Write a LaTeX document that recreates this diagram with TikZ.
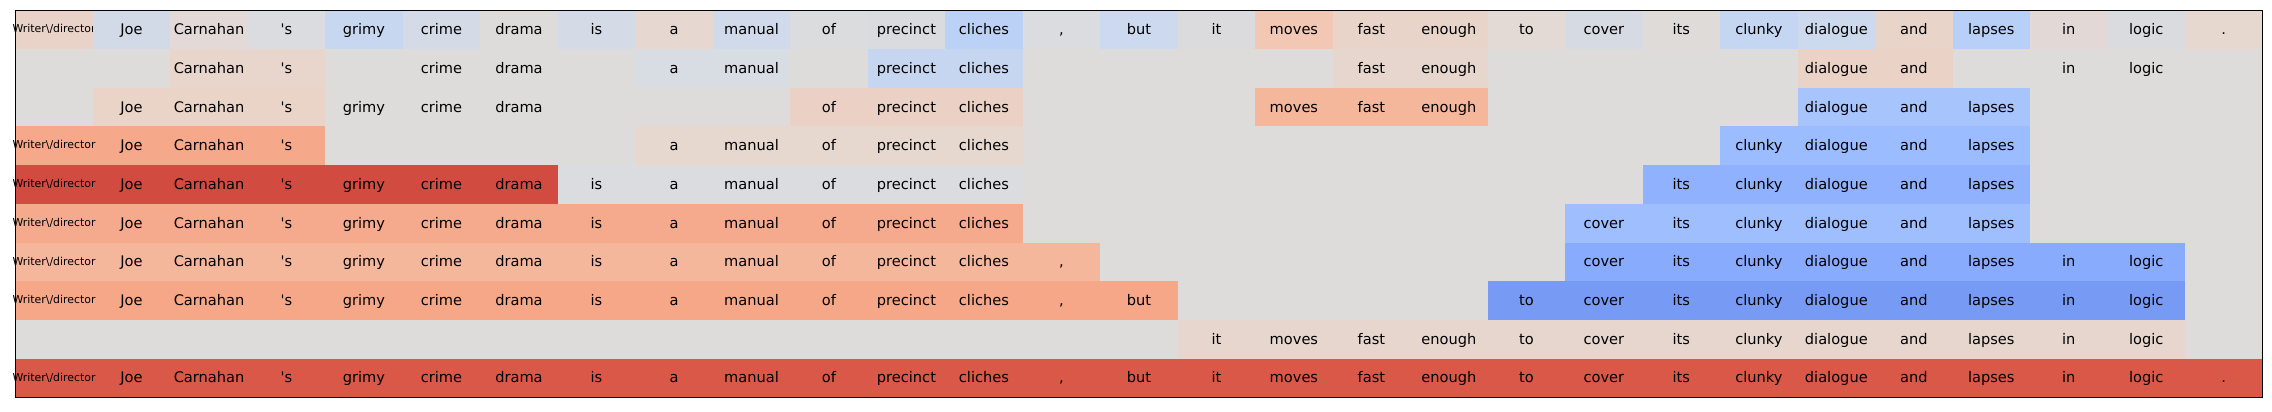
\documentclass[tikz,border=0pt]{standalone}
\usepackage{fontspec}
\setmainfont{DejaVu Sans}
\newcommand\deftok[2]{\expandafter\def\csname tok#1\endcsname{#2}}
\deftok{0}{Writer\textbackslash/director}
\deftok{1}{Joe}
\deftok{2}{Carnahan}
\deftok{3}{\textquotesingle s}
\deftok{4}{grimy}
\deftok{5}{crime}
\deftok{6}{drama}
\deftok{7}{is}
\deftok{8}{a}
\deftok{9}{manual}
\deftok{10}{of}
\deftok{11}{precinct}
\deftok{12}{cliches}
\deftok{13}{,}
\deftok{14}{but}
\deftok{15}{it}
\deftok{16}{moves}
\deftok{17}{fast}
\deftok{18}{enough}
\deftok{19}{to}
\deftok{20}{cover}
\deftok{21}{its}
\deftok{22}{clunky}
\deftok{23}{dialogue}
\deftok{24}{and}
\deftok{25}{lapses}
\deftok{26}{in}
\deftok{27}{logic}
\deftok{28}{.}
\definecolor{bgc}{HTML}{DDDCDB}
\def\GX{15.3}\def\GY{10.3}\def\GW{77.49}\def\GH{38.7}
% row, from, to, hex colour
\newcommand\runcells[4]{%
  \definecolor{tmpc}{HTML}{#4}%
  \fill[tmpc] ({\GX+#2*\GW},{\GY+#1*\GH}) rectangle ({\GX+(#3+1)*\GW},{\GY+(#1+1)*\GH});%
  \foreach \c in {#2,...,#3}{%
    \ifnum\c=0
      \node[smalltok] (t-#1-\c) at ({\GX+(\c+0.5)*\GW},{\GY+(#1+0.5)*\GH+3.2}) {\csname tok\c\endcsname};%
    \else
      \node[maintok] (t-#1-\c) at ({\GX+(\c+0.5)*\GW},{\GY+(#1+0.5)*\GH+5.0}) {\csname tok\c\endcsname};%
    \fi
  }%
}
\begin{document}
\begin{tikzpicture}[x=1pt,y=-1pt,
  maintok/.style={anchor=base,inner sep=0pt,font=\fontsize{14.6}{17}\selectfont,text=black},
  smalltok/.style={anchor=base,inner sep=0pt,font=\fontsize{10.9}{13}\selectfont,text=black}]
\useasboundingbox (0,0) rectangle (2272,412);
\fill[bgc] (\GX,\GY) rectangle ({\GX+29*\GW},{\GY+10*\GH});
% row 0
\runcells{0}{0}{0}{E9D3C8}
\runcells{0}{1}{1}{D3DAE7}
\runcells{0}{2}{2}{E3DAD7}
\runcells{0}{3}{3}{DBDCDF}
\runcells{0}{4}{4}{C7D7EF}
\runcells{0}{5}{5}{D4DAE6}
\runcells{0}{6}{6}{DDDCDB}
\runcells{0}{7}{7}{D4DAE6}
\runcells{0}{8}{8}{E6D8D0}
\runcells{0}{9}{9}{D0DAEA}
\runcells{0}{10}{10}{DBDCDE}
\runcells{0}{11}{11}{DADBDF}
\runcells{0}{12}{12}{BCD1F6}
\runcells{0}{13}{13}{DBDCDF}
\runcells{0}{14}{14}{CCD9EE}
\runcells{0}{15}{15}{DBDBDD}
\runcells{0}{16}{16}{F2C8B4}
\runcells{0}{17}{17}{E8D4C9}
\runcells{0}{18}{18}{E8D4C9}
\runcells{0}{19}{19}{E3D9D5}
\runcells{0}{20}{20}{D6DAE3}
\runcells{0}{21}{21}{DFDBD9}
\runcells{0}{22}{22}{C4D6F2}
\runcells{0}{23}{23}{CDD9EC}
\runcells{0}{24}{24}{E9D4C9}
\runcells{0}{25}{25}{B8CFF8}
\runcells{0}{26}{26}{E2D9D6}
\runcells{0}{27}{27}{DADBDE}
\runcells{0}{28}{28}{E6D7CF}
% row 1
\runcells{1}{2}{3}{E8D6CC}
\runcells{1}{5}{6}{DDDCDB}
\runcells{1}{8}{9}{D8DCE3}
\runcells{1}{11}{12}{C6D6F1}
\runcells{1}{17}{18}{E6D6CD}
\runcells{1}{23}{24}{EAD2C6}
\runcells{1}{26}{27}{DDDCDB}
% row 2
\runcells{2}{1}{3}{EAD3C7}
\runcells{2}{4}{6}{DDDCDB}
\runcells{2}{10}{12}{EBD1C5}
\runcells{2}{16}{18}{F5B79C}
\runcells{2}{23}{25}{A7C4FC}
% row 3
\runcells{3}{0}{3}{F5A98A}
\runcells{3}{8}{12}{E6D7CF}
\runcells{3}{22}{25}{9BBCFF}
% row 4
\runcells{4}{0}{6}{D24B40}
\runcells{4}{7}{12}{DADCE0}
\runcells{4}{21}{25}{8FB1FE}
% row 5
\runcells{5}{0}{12}{F6AA8D}
\runcells{5}{20}{25}{9EBEFE}
% row 6
\runcells{6}{0}{13}{F5B79C}
\runcells{6}{20}{27}{88ABFD}
% row 7
\runcells{7}{0}{14}{F6A788}
\runcells{7}{19}{27}{779BF5}
% row 8
\runcells{8}{15}{27}{E6D6CD}
% row 9
\runcells{9}{0}{28}{D95847}
\draw[line width=1.1pt,black] (\GX,\GY) rectangle ({\GX+29*\GW},{\GY+10*\GH});
\end{tikzpicture}
\end{document}
